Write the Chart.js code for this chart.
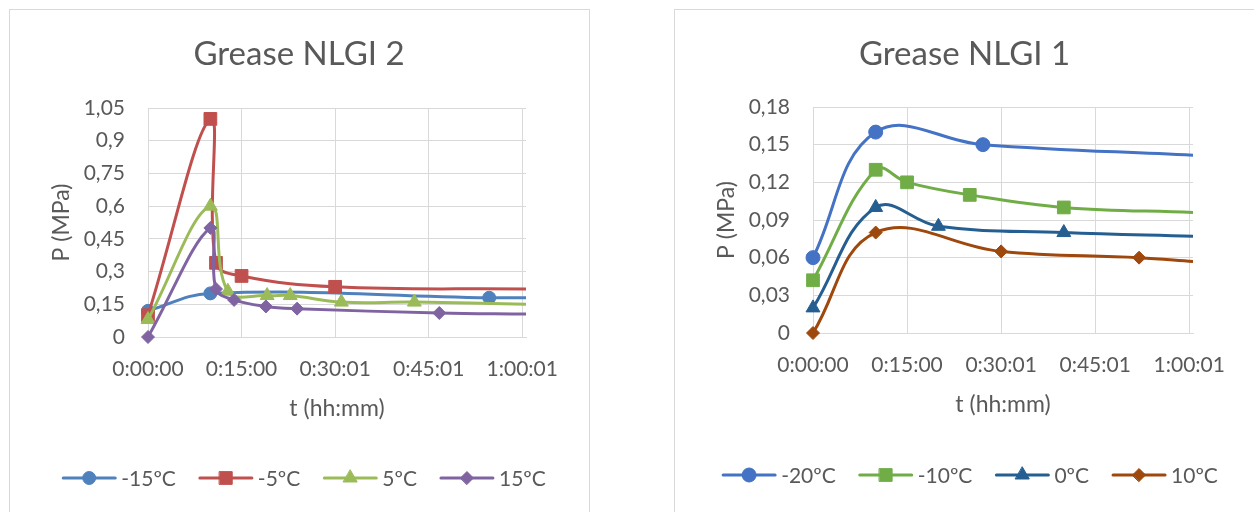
<!DOCTYPE html>
<html>
<head>
<meta charset="utf-8">
<script src="https://cdn.jsdelivr.net/npm/chart.js@4/dist/chart.umd.min.js"></script>
<style>
  body { margin: 0; background: #fff; width: 1254px; height: 512px; overflow: hidden; position: relative; font-family: Lato, sans-serif; }
  .box { position: absolute; top: 9px; height: 530px; border: 1px solid #d9d9d9; box-sizing: border-box; }
  #boxLeft { left: 9px; width: 581px; }
  #boxRight { left: 674px; width: 600px; }
  canvas { position: absolute; top: 10px; }
</style>
</head>
<body>
<div class="box" id="boxLeft"></div>
<div class="box" id="boxRight"></div>
<canvas id="nlgi2" width="578" height="502" style="left:10px"></canvas>
<canvas id="nlgi1" width="579" height="502" style="left:675px"></canvas>
<script>
// time axis (minutes), shared by both charts
const xTickValues = [0, 15, 30, 45, 60];
const xTickLabels = ['0:00:00', '0:15:00', '0:30:01', '0:45:01', '1:00:01'];
const xMax = 60.6;

// Grease NLGI 2
const timeM15 = [0, 10, 54.7, 60.6];
const presM15 = [0.12, 0.20, 0.18, 0.18];
const timeM5 = [0, 10, 10.9, 15, 30, 60.6];
const presM5 = [0.10, 1.00, 0.34, 0.28, 0.23, 0.22];
const timeP5 = [0, 10, 12.8, 19.1, 22.8, 31, 42.7, 60.6];
const presP5 = [0.08, 0.60, 0.21, 0.19, 0.19, 0.16, 0.16, 0.15];
const timeP15 = [0, 10, 10.9, 13.8, 18.9, 23.9, 46.7, 60.6];
const presP15 = [0, 0.50, 0.22, 0.17, 0.14, 0.13, 0.11, 0.105];
const yTicks2 = [0, 0.15, 0.3, 0.45, 0.6, 0.75, 0.9, 1.05];
const yLabels2 = ['0', '0,15', '0,3', '0,45', '0,6', '0,75', '0,9', '1,05'];

// Grease NLGI 1
const timeM20 = [0, 10, 27.1, 60.6];
const presM20 = [0.06, 0.16, 0.15, 0.1415];
const timeM10 = [0, 10, 15, 25, 40, 60.6];
const presM10 = [0.042, 0.13, 0.12, 0.11, 0.10, 0.096];
const time0 = [0, 10, 20, 40, 60.6];
const pres0 = [0.02, 0.10, 0.085, 0.08, 0.077];
const timeP10 = [0, 10, 30, 52, 60.6];
const presP10 = [0, 0.08, 0.065, 0.06, 0.057];
const yTicks1 = [0, 0.03, 0.06, 0.09, 0.12, 0.15, 0.18];
const yLabels1 = ['0', '0,03', '0,06', '0,09', '0,12', '0,15', '0,18'];

const textColor = '#595959';
const gridColor = '#d9d9d9';

// last point of each series sits on the plot edge and has no marker
function series(label, times, values, color, style, radius, order) {
  return {
    label: label,
    data: times.map((t, i) => ({ x: t, y: values[i] })),
    borderColor: color,
    backgroundColor: color,
    pointBackgroundColor: color,
    pointBorderColor: color,
    borderWidth: 3,
    tension: 0.4,
    pointStyle: style,
    legendRadius: radius,
    pointRadius: ctx => ctx.dataIndex === times.length - 1 ? 0 : radius,
    pointBorderWidth: 1,
    clip: { left: 14, top: 14, right: 0, bottom: 14 },
    order: order
  };
}

// title and Excel-like legend (line with marker in the middle)
const boxText = {
  id: 'boxText',
  afterDraw(chart, args, opts) {
    const ctx = chart.ctx;
    ctx.save();
    ctx.fillStyle = textColor;
    ctx.textAlign = 'center';
    ctx.textBaseline = 'middle';
    ctx.font = '33px Lato';
    ctx.fillText(opts.title, chart.width / 2, opts.titleY);

    ctx.font = '21px Lato';
    const items = chart.data.datasets.map(ds => ({ ds: ds, w: 54 + 5 + ctx.measureText(ds.label).width }));
    const total = items.reduce((s, it) => s + it.w, 0) + 23 * (items.length - 1);
    let x = opts.legendX - total / 2;
    const y = opts.legendY;
    items.forEach(it => {
      const ds = it.ds;
      ctx.strokeStyle = ds.borderColor;
      ctx.lineWidth = 3;
      ctx.lineCap = 'round';
      ctx.beginPath();
      ctx.moveTo(x + 1, y);
      ctx.lineTo(x + 53, y);
      ctx.stroke();
      ctx.fillStyle = ds.borderColor;
      ctx.lineWidth = 1;
      Chart.helpers.drawPoint(ctx, { pointStyle: ds.pointStyle, radius: ds.legendRadius, rotation: 0, borderWidth: 1 }, x + 27, y);
      ctx.fillStyle = textColor;
      ctx.textAlign = 'left';
      ctx.fillText(ds.label, x + 59, y + 1);
      x += it.w + 23;
    });
    ctx.restore();
  }
};

function makeOptions(yTicks, yLabels, yMax, plotTop, plotBottom, extra) {
  return {
    responsive: false,
    animation: false,
    layout: { padding: { top: plotTop, right: extra.right, bottom: 502 - plotBottom - 85.3, left: 0 } },
    plugins: {
      legend: { display: false },
      title: { display: false },
      tooltip: { enabled: false },
      boxText: extra
    },
    scales: {
      x: {
        type: 'linear',
        min: 0,
        max: xMax,
        afterBuildTicks: s => { s.ticks = xTickValues.map(v => ({ value: v })); },
        afterFit: s => { s.height = 85.3; },
        grid: { color: gridColor, drawTicks: false },
        border: { color: gridColor },
        ticks: {
          padding: 20, color: textColor, autoSkip: false, maxRotation: 0,
          font: { family: 'Lato', size: 21 },
          callback: (v, i) => xTickLabels[i]
        },
        title: { display: true, text: 't (hh:mm)', color: textColor, padding: 0, font: { family: 'Lato', size: 23 } }
      },
      y: {
        type: 'linear',
        min: 0,
        max: yMax,
        afterBuildTicks: s => { s.ticks = yTicks.map(v => ({ value: v })); },
        afterFit: s => { s.width = 138; },
        grid: { color: gridColor, drawTicks: false },
        border: { color: gridColor },
        ticks: {
          padding: 23, color: textColor, autoSkip: false,
          font: { family: 'Lato', size: 21 },
          callback: (v, i) => yLabels[i]
        },
        title: { display: true, text: 'P (MPa)', color: textColor, padding: { top: 38, bottom: 0 }, font: { family: 'Lato', size: 23 } }
      }
    }
  };
}

new Chart(document.getElementById('nlgi2'), {
  type: 'line',
  data: {
    datasets: [
      series('-15ºC', timeM15, presM15, '#4F81BD', 'circle', 6.5, 4),
      series('-5ºC', timeM5, presM5, '#C0504D', 'rect', 9, 3),
      series('5ºC', timeP5, presP5, '#9BBB59', 'triangle', 8, 2),
      series('15ºC', timeP15, presP15, '#8064A2', 'rectRot', 6.5, 1)
    ]
  },
  options: makeOptions(yTicks2, yLabels2, 1.05, 98, 327,
    { title: 'Grease NLGI 2', titleY: 44, legendX: 294, legendY: 468, right: 62 }),
  plugins: [boxText]
});

new Chart(document.getElementById('nlgi1'), {
  type: 'line',
  data: {
    datasets: [
      series('-20ºC', timeM20, presM20, '#4472C4', 'circle', 7, 4),
      series('-10ºC', timeM10, presM10, '#70AD47', 'rect', 9, 3),
      series('0ºC', time0, pres0, '#255E91', 'triangle', 8, 2),
      series('10ºC', timeP10, presP10, '#9E480E', 'rectRot', 6.5, 1)
    ]
  },
  options: makeOptions(yTicks1, yLabels1, 0.18, 97, 323,
    { title: 'Grease NLGI 1', titleY: 44, legendX: 295, legendY: 465, right: 61 }),
  plugins: [boxText]
});
</script>
</body>
</html>
